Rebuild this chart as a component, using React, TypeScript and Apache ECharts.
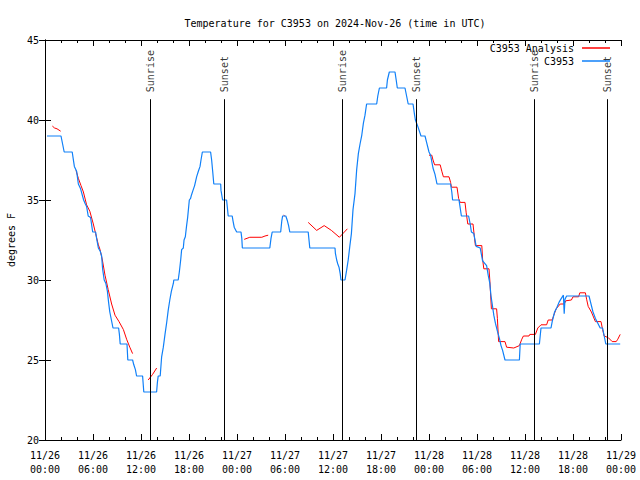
import React, { useEffect, useRef } from "react";
import * as echarts from "echarts";

// hours since 2024-11-26 00:00 UTC, temperature in °F
const obsDay1: [number, number][] = [
  [0.25, 39], [2.0, 39], [2.4, 38], [3.4, 38], [3.67, 37.1], [3.95, 36.8], [4.17, 36.0], [4.45, 35.7],
  [4.83, 35.0], [5.0, 34.8], [5.2, 34.6], [5.4, 34.0], [5.7, 33.9], [5.96, 33.0], [6.33, 33.0], [6.45, 32.6],
  [6.67, 32.0], [6.9, 31.8], [7.08, 31.5], [7.2, 30.7], [7.4, 30.0], [7.6, 29.8], [7.8, 29.3], [7.95, 28.6],
  [8.1, 28.0], [8.3, 27.5], [8.5, 27.0], [9.2, 27.0], [9.3, 26.6], [9.4, 26.0], [10.25, 26.0], [10.35, 25.0],
  [10.95, 25.0], [11.1, 24.7], [11.3, 24.4], [11.45, 24.0], [12.2, 24.0], [12.35, 23.0], [13.95, 23.0],
  [14.05, 23.6], [14.15, 24.0], [14.4, 24.0], [14.58, 25.2], [14.79, 25.8], [15.0, 26.6], [15.2, 27.3],
  [15.4, 28.1], [15.6, 28.75], [15.8, 29.3], [16.05, 29.8], [16.1, 30.0], [16.65, 30.0], [16.79, 30.5],
  [16.96, 31.25], [17.08, 31.9], [17.29, 32.0], [17.38, 32.5], [17.54, 32.7], [17.7, 33.4], [17.83, 33.9],
  [18.04, 35.0], [18.2, 35.1], [18.3, 35.3], [18.5, 35.6], [18.7, 35.9], [18.96, 36.46], [19.17, 36.8],
  [19.38, 37.1], [19.5, 37.5], [19.67, 38.0], [20.7, 38.0], [20.83, 37.5], [20.96, 36.8], [21.1, 36.0],
  [21.96, 36.0], [22.0, 35.6], [22.2, 35.0], [22.7, 35.0], [22.8, 34.5], [22.9, 34.0], [23.4, 34.0],
];
const obsDay2: [number, number][] = [
  [23.5, 33.7], [23.65, 33.3], [23.96, 33.0], [24.5, 33.0], [24.6, 32.6], [24.67, 32.0], [28.1, 32.0],
  [28.25, 32.6], [28.4, 33.0], [29.46, 33.0], [29.6, 33.7], [29.7, 34.0], [30.1, 34.0], [30.3, 33.7],
  [30.45, 33.4], [30.6, 33.0], [32.9, 33.0], [33.0, 32.5], [33.1, 32.0], [36.25, 32.0], [36.3, 31.67],
  [36.46, 31.25], [36.6, 31.0], [36.75, 30.8], [36.9, 30.4], [37.0, 30.0], [37.5, 30.0], [37.7, 30.6],
  [37.9, 31.25], [38.1, 32.1], [38.3, 32.9], [38.5, 34.4], [38.75, 35.4], [38.96, 36.9], [39.17, 37.9],
  [39.38, 38.5], [39.6, 39.06], [39.8, 39.8], [40.0, 40.3], [40.2, 41.0], [41.46, 41.0], [41.6, 41.5],
  [41.8, 42.0], [42.7, 42.0], [42.8, 42.5], [43.04, 43.0], [43.75, 43.0], [43.9, 42.5], [44.04, 42.0],
  [45.0, 42.0], [45.2, 41.5], [45.4, 41.0], [46.0, 41.0], [46.2, 40.3], [46.3, 40.0], [46.6, 39.6],
  [47.0, 39.0], [47.5, 39.0], [47.7, 38.6],
];
const obsDay3: [number, number][] = [
  [48.0, 38.0], [48.2, 37.8], [48.35, 37.4], [48.5, 37.0], [48.75, 36.6], [49.0, 36.0], [50.7, 36.0],
  [50.85, 35.5], [50.95, 35.0], [51.75, 35.0], [51.9, 34.5], [52.05, 34.0], [52.95, 34.0], [53.15, 33.5],
  [53.3, 33.0], [53.6, 32.9], [53.9, 32.1], [54.4, 32.0], [54.55, 31.6], [54.7, 31.2], [55.2, 30.9],
  [55.4, 30.3], [55.6, 29.8], [55.75, 29.0], [55.9, 28.5], [56.1, 27.8], [56.3, 27.3], [56.55, 26.8],
  [56.8, 26.35], [57.0, 25.9], [57.2, 25.6], [57.5, 25.0], [59.3, 25.0], [59.4, 26.0], [61.8, 26.0],
  [62.0, 27.0], [63.25, 27.0], [63.4, 27.4], [63.7, 28.0], [64.0, 28.3], [64.3, 28.65], [64.6, 28.9],
  [64.8, 29.05], [64.9, 27.9], [65.0, 28.8], [65.2, 29.0], [68.0, 29.0], [68.2, 28.6], [68.5, 28.0],
  [68.8, 27.6], [69.1, 27.3], [69.4, 27.0], [69.7, 27.0], [69.9, 26.5], [70.1, 26.0], [71.9, 26.0],
];

const anaSeg1: [number, number][] = [[0.92, 39.62], [1.2, 39.5], [1.5, 39.45], [1.96, 39.3]];
const anaSeg2: [number, number][] = [
  [3.88, 36.85], [4.17, 36.35], [4.5, 35.9], [4.8, 35.5], [5.2, 34.7], [5.6, 34.3], [6.04, 33.5],
  [6.33, 32.9], [6.67, 32.2], [6.88, 31.9], [7.17, 31.25], [7.5, 30.3], [7.9, 29.4], [8.33, 28.5],
  [8.75, 27.8], [9.25, 27.4], [9.8, 26.9], [10.2, 26.3], [10.6, 25.8], [10.95, 25.4],
];
const anaSeg3: [number, number][] = [[12.9, 23.75], [13.45, 24.1], [13.96, 24.5]];
const anaSeg4: [number, number][] = [[24.9, 32.54], [25.6, 32.67], [27.1, 32.67], [27.5, 32.75], [27.9, 32.8]];
const anaSeg5: [number, number][] = [[29.82, 34.05], [29.98, 34.0]];
const anaSeg6: [number, number][] = [
  [32.9, 33.6], [33.96, 33.1], [34.9, 33.4], [35.8, 33.1], [36.8, 32.67], [37.8, 33.2],
];
const anaSeg7: [number, number][] = [
  [48.0, 37.8], [48.35, 37.8], [48.5, 37.5], [48.7, 37.2], [49.4, 37.2], [49.6, 36.8], [49.8, 36.45],
  [50.5, 36.45], [50.7, 36.1], [50.8, 35.8], [51.5, 35.8], [51.7, 35.1], [51.9, 34.85], [52.5, 34.85],
  [52.65, 34.2], [52.85, 33.5], [53.5, 33.5], [53.65, 32.8], [53.8, 32.15], [54.6, 32.15], [54.7, 31.3],
  [54.85, 30.7], [55.5, 30.7], [55.6, 30.0], [55.8, 28.2], [56.45, 28.2], [56.55, 27.6], [56.7, 26.15],
  [57.5, 26.15], [57.7, 25.8], [58.6, 25.75], [59.3, 25.9], [59.6, 26.3], [59.8, 26.5], [60.5, 26.5],
  [60.6, 26.6], [61.3, 26.6], [61.6, 27.0], [62.0, 27.2], [62.7, 27.2], [62.9, 27.5], [63.4, 27.5],
  [63.6, 27.8], [63.9, 28.2], [64.4, 28.5], [64.9, 28.5], [65.1, 28.7], [65.8, 28.75], [66.0, 28.95],
  [66.7, 28.95], [66.85, 29.2], [67.55, 29.2], [67.7, 28.8], [67.9, 28.35], [68.3, 28.0], [68.8, 27.4],
  [69.5, 27.4], [69.7, 26.9], [69.9, 26.5], [70.4, 26.4], [70.9, 26.15], [71.4, 26.15], [71.6, 26.3],
  [71.9, 26.6],
];

const sunTimes = [13.17, 22.4, 37.17, 46.4, 61.17, 70.3];
const sunNames = ["Sunrise", "Sunset", "Sunrise", "Sunset", "Sunrise", "Sunset"];
const sunLineTop = 41.3;

const xMin = 0;
const xMax = 72;
const xStep = 6;
const yMin = 20;
const yMax = 45;
const yStep = 5;

const FONT = '"DejaVu Sans Mono", "Liberation Mono", monospace';

function fmtX(v: number): string {
  const d = 26 + Math.floor(v / 24);
  const hh = v % 24;
  return `11/${d}\n${String(hh).padStart(2, "0")}:00`;
}

export default function App() {
  const ref = useRef<HTMLDivElement>(null);
  useEffect(() => {
    if (!ref.current) return;
    const chart = echarts.init(ref.current, undefined, { renderer: "svg" });
    const BR: any = ["-", "-"];
    const obs = [...obsDay1, ...obsDay2, ...obsDay3];
    const ana = [
      ...anaSeg1, BR, ...anaSeg2, BR, ...anaSeg3, BR, ...anaSeg4, BR, ...anaSeg5, BR, ...anaSeg6, BR, ...anaSeg7,
    ];
    const axisCommon = {
      axisLine: { show: true, lineStyle: { color: "#000", width: 1 } },
      splitLine: { show: false },
    };
    const legendCommon = {
      orient: "vertical",
      align: "right",
      right: 30,
      padding: 0,
      itemWidth: 28,
      itemHeight: 1.5,
      icon: "rect",
      selectedMode: false,
      textStyle: { fontFamily: FONT, fontSize: 10, color: "#000", padding: [0, 3, 0, 0] },
    };
    chart.setOption({
      animation: false,
      backgroundColor: "#fff",
      title: {
        text: "Temperature for C3953 on 2024-Nov-26 (time in UTC)",
        left: 330,
        top: 13,
        textAlign: "center",
        textStyle: { fontFamily: FONT, fontSize: 10, fontWeight: "normal", color: "#000" },
      },
      legend: [
        { ...legendCommon, top: 43, data: ["C3953 Analysis"] },
        { ...legendCommon, top: 56, data: ["C3953"] },
      ],
      grid: { left: 45, right: 19, top: 40, bottom: 40, containLabel: false, outerBoundsMode: "none" },
      xAxis: [
        {
          type: "value",
          position: "bottom",
          min: xMin,
          max: xMax,
          interval: xStep,
          ...axisCommon,
          axisTick: { show: true, inside: true, length: 6, lineStyle: { color: "#000" } },
          minorTick: { show: true, splitNumber: 3, length: 3, lineStyle: { color: "#000" } },
          axisLabel: {
            formatter: fmtX,
            fontFamily: FONT,
            fontSize: 10,
            color: "#000",
            margin: 8,
            lineHeight: 14,
          },
        },
        {
          type: "value",
          position: "top",
          min: xMin,
          max: xMax,
          interval: xStep,
          ...axisCommon,
          axisTick: { show: true, inside: true, length: 6, lineStyle: { color: "#000" } },
          minorTick: { show: true, splitNumber: 3, length: 3, lineStyle: { color: "#000" } },
          axisLabel: { show: false },
        },
      ],
      yAxis: [
        {
          type: "value",
          position: "left",
          min: yMin,
          max: yMax,
          interval: yStep,
          ...axisCommon,
          axisTick: { show: true, inside: true, length: 6, lineStyle: { color: "#000" } },
          axisLabel: { fontFamily: FONT, fontSize: 10, color: "#000", margin: 6 },
          name: "degrees F",
          nameLocation: "middle",
          nameRotate: 90,
          nameGap: 29,
          nameTextStyle: { fontFamily: FONT, fontSize: 10, color: "#000" },
        },
        {
          type: "value",
          position: "right",
          min: yMin,
          max: yMax,
          interval: yStep,
          ...axisCommon,
          axisTick: { show: true, inside: true, length: 6, lineStyle: { color: "#000" } },
          axisLabel: { show: false },
        },
      ],
      series: [
        {
          name: "sun",
          type: "scatter",
          symbolSize: 0,
          silent: true,
          data: sunTimes.map((t, i) => ({ value: [t, sunLineTop], name: sunNames[i] })),
          label: {
            show: true,
            position: "top",
            distance: 7,
            rotate: 90,
            align: "left",
            verticalAlign: "middle",
            formatter: "{b}",
            fontFamily: FONT,
            fontSize: 10,
            color: "#000",
          },
          markLine: {
            silent: true,
            symbol: ["none", "none"],
            label: { show: false },
            lineStyle: { color: "#000", width: 1, type: "solid" },
            data: sunTimes.map((t) => [{ coord: [t, yMin] }, { coord: [t, sunLineTop] }]),
          },
        },
        {
          name: "C3953 Analysis",
          type: "line",
          data: ana,
          showSymbol: false,
          symbol: "none",
          connectNulls: false,
          color: "#ff0000",
          lineStyle: { color: "#ff0000", width: 1 },
        },
        {
          name: "C3953",
          type: "line",
          data: obs,
          showSymbol: false,
          symbol: "none",
          color: "#1080f8",
          lineStyle: { color: "#1080f8", width: 1.2 },
        },
      ],
    });
    return () => chart.dispose();
  }, []);
  return (
    <div
      ref={ref}
      style={{ position: "fixed", left: 0, top: 0, width: 640, height: 480, background: "#fff" }}
    />
  );
}
